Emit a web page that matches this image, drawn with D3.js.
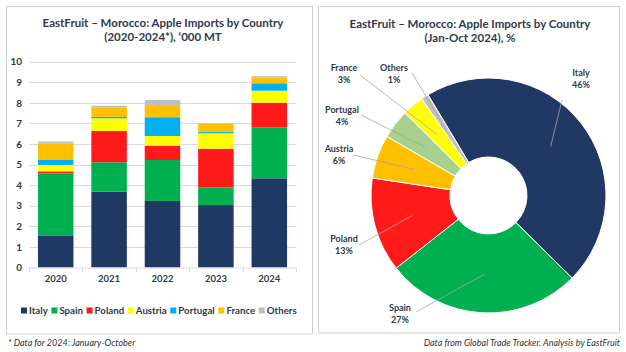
<!DOCTYPE html>
<html>
<head>
<meta charset="utf-8">
<script src="https://cdn.jsdelivr.net/npm/d3@7"></script>
<style>
  body { margin: 0; background: #fff; }
  svg { display: block; font-family: Lato, "Open Sans", sans-serif; }
</style>
</head>
<body>
<div id="chart"></div>
<script>
const years = ["2020", "2021", "2022", "2023", "2024"];
const countries = ["Italy", "Spain", "Poland", "Austria", "Portugal", "France", "Others"];
const italy    = [1.53, 3.68, 3.23, 3.03, 4.33];
const spain    = [3.04, 1.43, 1.99, 0.86, 2.48];
const poland   = [0.10, 1.52, 0.70, 1.88, 1.20];
const austria  = [0.31, 0.62, 0.47, 0.75, 0.58];
const portugal = [0.24, 0.07, 0.91, 0.06, 0.36];
const france   = [0.80, 0.46, 0.55, 0.39, 0.29];
const others   = [0.10, 0.08, 0.29, 0.03, 0.06];
const yTicks = [0, 1, 2, 3, 4, 5, 6, 7, 8, 9, 10];

const shareLabels = ["Italy", "Spain", "Poland", "Austria", "Portugal", "France", "Others"];
const shareValues = [46, 27, 13, 6, 4, 3, 1];

const barColors = ["#1F3864", "#00B050", "#FF1A1A", "#FFFF00", "#00B0F0", "#FFC000", "#BFBFBF"];
const pieColors = ["#1F3864", "#00B050", "#FF1A1A", "#FFC000", "#A9D18E", "#FFFF00", "#BFBFBF"];

const width = 626, height = 352;
const textColor = "#2E3A4C";

const svg = d3.select("#chart").append("svg")
  .attr("width", width)
  .attr("height", height);

// panel frames
svg.append("rect").attr("x", 6.5).attr("y", 6.5).attr("width", 306).attr("height", 327.5)
  .attr("fill", "#fff").attr("stroke", "#D0D0D0");
svg.append("rect").attr("x", 318.5).attr("y", 6.5).attr("width", 301).attr("height", 326.5)
  .attr("fill", "#fff").attr("stroke", "#D0D0D0");

// ---------- left: stacked bars ----------
const title1 = svg.append("text")
  .attr("x", 163).attr("y", 27)
  .attr("text-anchor", "middle")
  .attr("font-size", "11.5px").attr("font-weight", "700")
  .attr("fill", textColor);
title1.append("tspan").attr("x", 163).attr("dy", 0).text("EastFruit \u2013  Morocco: Apple Imports by Country");
title1.append("tspan").attr("x", 163).attr("dy", 13.5).text("(2020-2024*), \u2018000 MT");

const x = d3.scaleBand()
  .domain(years)
  .range([29, 296])
  .paddingInner(0.335)
  .paddingOuter(0.1675);

const y = d3.scaleLinear().domain([0, 10]).range([267.4, 61.7]);

// gridlines
svg.append("g")
  .selectAll("line")
  .data(yTicks.slice(1))
  .join("line")
  .attr("x1", 29).attr("x2", 296)
  .attr("y1", d => Math.round(y(d)) + 0.5)
  .attr("y2", d => Math.round(y(d)) + 0.5)
  .attr("stroke", "#D9D9D9");

const yAxis = svg.append("g")
  .attr("transform", "translate(29,0)")
  .call(d3.axisLeft(y).tickValues(yTicks).tickSize(0).tickPadding(7));
yAxis.select(".domain").remove();
yAxis.selectAll("text")
  .attr("font-size", "10px").attr("font-weight", "700")
  .attr("font-family", "Lato, sans-serif")
  .attr("fill", textColor);

const series = [italy, spain, poland, austria, portugal, france, others];
const table = years.map((yr, i) => {
  const row = { year: yr };
  countries.forEach((c, k) => { row[c] = series[k][i]; });
  return row;
});
const stacked = d3.stack().keys(countries)(table);

svg.append("g")
  .selectAll("g")
  .data(stacked)
  .join("g")
  .attr("fill", (d, i) => barColors[i])
  .selectAll("rect")
  .data(d => d)
  .join("rect")
  .attr("x", d => x(d.data.year))
  .attr("width", x.bandwidth())
  .attr("y", d => y(d[1]))
  .attr("height", d => y(d[0]) - y(d[1]));

// x axis
const xAxis = svg.append("g")
  .attr("transform", "translate(0,267.5)")
  .call(d3.axisBottom(x).tickSize(0).tickPadding(8));
xAxis.select(".domain").attr("stroke", "#D9D9D9");
xAxis.selectAll("text")
  .attr("font-size", "9.5px").attr("font-weight", "700")
  .attr("font-family", "Lato, sans-serif")
  .attr("fill", textColor);
const bounds = years.map(yr => x(yr) - x.step() * x.paddingInner() / 2)
  .concat([x(years[years.length - 1]) + x.bandwidth() + x.step() * x.paddingInner() / 2]);
svg.append("g")
  .selectAll("line")
  .data(bounds)
  .join("line")
  .attr("x1", d => Math.round(d) + 0.5).attr("x2", d => Math.round(d) + 0.5)
  .attr("y1", 267.5).attr("y2", 272)
  .attr("stroke", "#D9D9D9");

// legend
const legend = svg.append("g").attr("transform", "translate(21,314)");
let lx = 0;
countries.forEach((c, i) => {
  const item = legend.append("g").attr("transform", `translate(${lx},0)`);
  item.append("rect").attr("x", 0).attr("y", -6.5).attr("width", 6).attr("height", 6)
    .attr("fill", barColors[i]);
  const t = item.append("text").attr("x", 8).attr("y", 0)
    .attr("font-size", "9.7px").attr("font-weight", "700")
    .attr("fill", textColor).text(c);
  lx += 8 + t.node().getComputedTextLength() + 3.6;
});

// footnotes
svg.append("text")
  .attr("x", 8).attr("y", 346)
  .attr("font-size", "9px").attr("font-style", "italic")
  .attr("fill", "#333")
  .text("* Data for 2024: January-October");
svg.append("text")
  .attr("x", 620).attr("y", 346)
  .attr("text-anchor", "end")
  .attr("font-size", "9px").attr("font-style", "italic")
  .attr("fill", "#333")
  .text("Data from Global Trade Tracker. Analysis by EastFruit");

// ---------- right: doughnut ----------
const title2 = svg.append("text")
  .attr("x", 470).attr("y", 28)
  .attr("text-anchor", "middle")
  .attr("font-size", "11.5px").attr("font-weight", "700")
  .attr("fill", textColor);
title2.append("tspan").attr("x", 470).attr("dy", 0).text("EastFruit \u2013 Morocco: Apple Imports by Country");
title2.append("tspan").attr("x", 470).attr("dy", 13.5).text("(Jan-Oct 2024), %");

const cx = 488.5, cy = 195.5;
const pie = d3.pie().sort(null)
  .startAngle(-31 * Math.PI / 180)
  .endAngle((360 - 31) * Math.PI / 180);
const arcs = pie(shareValues);
const arc = d3.arc().innerRadius(38.5).outerRadius(117.5);
const leaderArc = d3.arc().innerRadius(79).outerRadius(79);

const pg = svg.append("g").attr("transform", `translate(${cx},${cy})`);
pg.selectAll("path")
  .data(arcs)
  .join("path")
  .attr("d", arc)
  .attr("fill", (d, i) => pieColors[i])
  .attr("stroke", "#fff")
  .attr("stroke-width", 1);

// label layout: text anchor position and leader start point
const labelLayout = {
  Italy:    { tx: 581, ty: 76,  lx: 562, ly: 100 },
  Spain:    { tx: 400, ty: 311, lx: 416, ly: 312 },
  Poland:   { tx: 344, ty: 242, lx: 359, ly: 245 },
  Austria:  { tx: 339, ty: 152, lx: 353, ly: 155 },
  Portugal: { tx: 342, ty: 113, lx: 361, ly: 115 },
  France:   { tx: 344, ty: 71,  lx: 360, ly: 75 },
  Others:   { tx: 394, ty: 71,  lx: 412, ly: 73 }
};

arcs.forEach((d, i) => {
  const lab = labelLayout[shareLabels[i]];
  const c = leaderArc.centroid(d);
  svg.append("line")
    .attr("x1", lab.lx).attr("y1", lab.ly)
    .attr("x2", cx + c[0]).attr("y2", cy + c[1])
    .attr("stroke", "#A6A6A6").attr("stroke-width", 0.8);
  const t = svg.append("text")
    .attr("x", lab.tx).attr("y", lab.ty)
    .attr("text-anchor", "middle")
    .attr("font-size", "9px").attr("font-weight", "700")
    .attr("fill", textColor);
  t.append("tspan").attr("x", lab.tx).attr("dy", 0).text(shareLabels[i]);
  t.append("tspan").attr("x", lab.tx).attr("dy", 11.5).text(shareValues[i] + "%");
});
</script>
</body>
</html>
